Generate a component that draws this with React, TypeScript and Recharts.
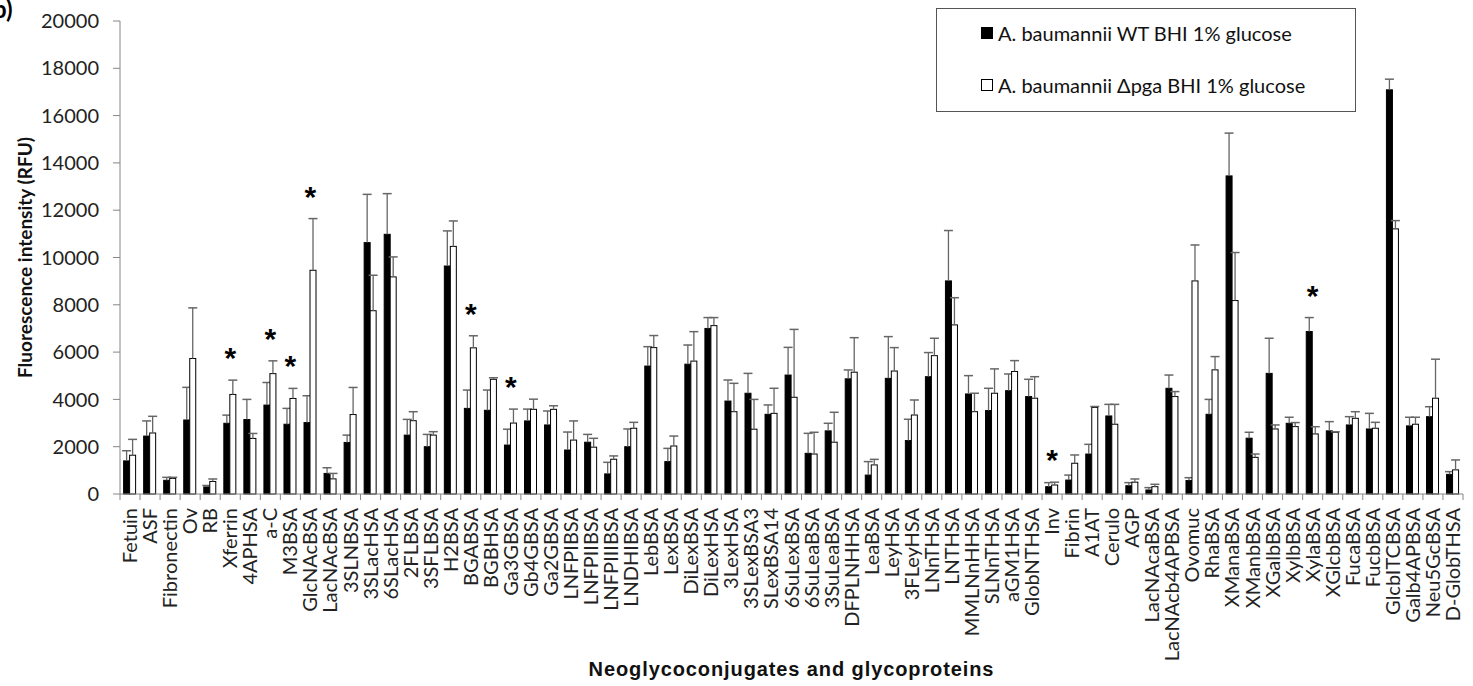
import React from "react";
import { ComposedChart, Bar, Line, XAxis, YAxis } from "recharts";

const CATEGORIES = [
  "Fetuin", "ASF", "Fibronectin", "Ov", "RB", "Xferrin", "4APHSA", "a-C",
  "M3BSA", "GlcNAcBSA", "LacNAcBSA", "3SLNBSA", "3SLacHSA", "6SLacHSA",
  "2FLBSA", "3SFLBSA", "H2BSA", "BGABSA", "BGBHSA", "Ga3GBSA", "Gb4GBSA",
  "Ga2GBSA", "LNFPIBSA", "LNFPIIBSA", "LNFPIIIBSA", "LNDHIBSA", "LebBSA",
  "LexBSA", "DiLexBSA", "DiLexHSA", "3LexHSA", "3SLexBSA3", "SLexBSA14",
  "6SuLexBSA", "6SuLeaBSA", "3SuLeaBSA", "DFPLNHHSA", "LeaBSA", "LeyHSA",
  "3FLeyHSA", "LNnTHSA", "LNTHSA", "MMLNnHHSA", "SLNnTHSA", "aGM1HSA",
  "GlobNTHSA", "Inv", "Fibrin", "A1AT", "Cerulo", "AGP", "LacNAcaBSA",
  "LacNAcb4APBSA", "Ovomuc", "RhaBSA", "XManaBSA", "XManbBSA", "XGalbBSA",
  "XylbBSA", "XylaBSA", "XGlcbBSA", "FucaBSA", "FucbBSA", "GlcbITCBSA",
  "Galb4APBSA", "Neu5GcBSA", "D-GlobTHSA",
];

// A. baumannii WT, BHI 1% glucose (mean, SD)
const WT = [
  1400, 2450, 580, 3130, 300, 2990, 3150, 3760, 2950, 3020, 870, 2180, 10630,
  10980, 2490, 2000, 9640, 3620, 3540, 2070, 3090, 2920, 1860, 2190, 850, 2000,
  5410, 1370, 5490, 7000, 3930, 4260, 3370, 5030, 1720, 2670, 4870, 800, 4890,
  2260, 4960, 9010, 4230, 3530, 4370, 4120, 310, 590, 1690, 3300, 350, 170,
  4470, 570, 3370, 13450, 2360, 5100, 2990, 6870, 2670, 2920, 2750, 17090,
  2880, 3270, 830,
];
const WT_SD = [
  430, 640, 125, 1380, 60, 345, 850, 955, 670, 1135, 240, 310, 2040, 1720, 665,
  520, 1485, 775, 855, 670, 500, 590, 760, 330, 490, 750, 820, 560, 810, 460,
  890, 840, 395, 1170, 845, 320, 375, 570, 1765, 900, 1020, 2130, 775, 940,
  705, 730, 170, 210, 410, 490, 130, 100, 560, 120, 630, 1810, 250, 1485, 255,
  590, 390, 350, 660, 450, 365, 420, 115,
];

// A. baumannii Δpga, BHI 1% glucose (mean, SD)
const PGA = [
  1640, 2580, 660, 5730, 530, 4210, 2350, 5090, 4040, 9460, 640, 3360, 7750,
  9180, 3100, 2490, 10470, 6180, 4850, 3000, 3580, 3580, 2280, 1980, 1470, 2780,
  6190, 2030, 5620, 7120, 3480, 2740, 3410, 4090, 1690, 2190, 5150, 1230, 5200,
  3340, 5850, 7150, 3480, 4260, 5180, 4050, 380, 1300, 3660, 2950, 500, 310,
  4120, 9010, 5250, 8180, 1550, 2750, 2850, 2540, 2610, 3200, 2780, 11210,
  2950, 4050, 1020,
];
const PGA_SD = [
  670, 705, 45, 2140, 105, 605, 210, 540, 425, 2185, 230, 1145, 1500, 845, 380,
  145, 1075, 510, 65, 590, 430, 150, 810, 375, 140, 250, 510, 420, 1245, 340,
  1200, 1260, 1060, 2870, 920, 1265, 1460, 235, 990, 635, 735, 1150, 780, 1030,
  460, 910, 120, 350, 40, 840, 135, 100, 210, 1520, 560, 2030, 140, 170, 170,
  305, 20, 280, 250, 350, 295, 1650, 420,
];

// glycans with a significant WT vs Δpga difference
const SIGNIFICANT = [
  "Xferrin", "a-C", "M3BSA", "GlcNAcBSA", "BGABSA", "Ga3GBSA", "Inv", "XylaBSA",
];

const Y_TICKS = [0, 2000, 4000, 6000, 8000, 10000, 12000, 14000, 16000, 18000, 20000];

const WT_LABEL = "A. baumannii WT BHI 1% glucose";
const PGA_LABEL = "A. baumannii \u0394pga BHI 1% glucose";

const data = CATEGORIES.map((name, i) => ({
  name,
  wt: WT[i],
  wtSd: WT_SD[i],
  pga: PGA[i],
  pgaSd: PGA_SD[i],
  star: SIGNIFICANT.includes(name)
    ? Math.max(WT[i] + WT_SD[i], PGA[i] + PGA_SD[i])
    : null,
}));

const FONT = "Lato, 'Open Sans', sans-serif";
const W = 1473;
const H = 686;
const PLOT_LEFT = 120;
const PLOT_RIGHT = 1463;
const AXIS_Y = 494;
const STEP = (PLOT_RIGHT - PLOT_LEFT) / CATEGORIES.length;

// bar rect plus an upward-only error whisker, scaled off the bar's own height
function barWithError(valueKey: string, sdKey: string, fill: string) {
  return (props: any) => {
    const { x, y, width, height, payload } = props;
    const value = payload[valueKey];
    const perUnit = value > 0 ? height / value : 0;
    const top = y - payload[sdKey] * perUnit;
    const cx = x + width / 2;
    return (
      <g>
        <rect
          x={x}
          y={y}
          width={width}
          height={height}
          fill={fill}
          stroke="#000"
          strokeWidth={1}
        />
        <line x1={cx} y1={y} x2={cx} y2={top} stroke="#666" strokeWidth={1.3} />
        <line x1={cx - 4.5} y1={top} x2={cx + 4.5} y2={top} stroke="#666" strokeWidth={1.5} />
      </g>
    );
  };
}

function CategoryTick(props: any) {
  const { x, y, payload, index } = props;
  const left = x - STEP / 2;
  return (
    <g>
      <line x1={left} y1={AXIS_Y} x2={left} y2={AXIS_Y + 6} stroke="#868686" />
      {index === CATEGORIES.length - 1 && (
        <line
          x1={x + STEP / 2}
          y1={AXIS_Y}
          x2={x + STEP / 2}
          y2={AXIS_Y + 6}
          stroke="#868686"
        />
      )}
      <text
        transform={`translate(${x},${y}) rotate(-90)`}
        textAnchor="end"
        dy="0.35em"
        fontSize={20}
        fontFamily={FONT}
        fill="#222"
      >
        {payload.value}
      </text>
    </g>
  );
}

function Asterisk(props: any) {
  const { cx, cy, payload, index } = props;
  if (payload.star == null || cy == null) return <g key={index} />;
  return (
    <text
      key={index}
      x={cx}
      y={cy - 12}
      textAnchor="middle"
      fontSize={30}
      fontWeight="bold"
      fontFamily="'Liberation Sans', Arial, sans-serif"
      fill="#000"
    >
      *
    </text>
  );
}

function LegendBox() {
  const row = (label: string, fill: string, top: number) => (
    <div
      style={{
        position: "absolute",
        left: 44,
        top,
        display: "flex",
        alignItems: "center",
        whiteSpace: "nowrap",
      }}
    >
      <span
        style={{
          display: "inline-block",
          width: 10,
          height: 10,
          background: fill,
          border: "1px solid #000",
          marginRight: 5,
        }}
      />
      <span style={{ fontSize: 20, fontFamily: FONT, color: "#111" }}>{label}</span>
    </div>
  );
  return (
    <div
      style={{
        position: "absolute",
        left: 936,
        top: 8,
        width: 420,
        height: 104,
        border: "1.5px solid #555",
        background: "#fff",
        boxSizing: "border-box",
      }}
    >
      {row(WT_LABEL, "#000", 12)}
      {row(PGA_LABEL, "#fff", 64)}
    </div>
  );
}

export default function App() {
  return (
    <div
      style={{
        position: "absolute",
        left: 0,
        top: 0,
        width: W,
        height: H,
        background: "#fff",
        overflow: "hidden",
      }}
    >
      <ComposedChart
        width={W}
        height={H}
        data={data}
        margin={{ top: 21, right: W - PLOT_RIGHT, bottom: 6, left: 0 }}
        barCategoryGap="18%"
        barGap={0}
      >
        <XAxis
          dataKey="name"
          interval={0}
          height={186}
          tickLine={false}
          tickSize={6}
          tickMargin={8}
          stroke="#868686"
          tick={<CategoryTick />}
          label={{
            value: "Neoglycoconjugates and glycoproteins",
            position: "insideBottom",
            offset: 4,
            style: {
              fontFamily: "'Liberation Sans', Arial, sans-serif",
              fontWeight: "bold",
              fontSize: 20,
              letterSpacing: 0.9,
              fill: "#111",
            },
          }}
        />
        <YAxis
          domain={[0, 20000]}
          ticks={Y_TICKS}
          interval={0}
          width={PLOT_LEFT}
          tickSize={7}
          tickMargin={14}
          stroke="#868686"
          tick={{ fontSize: 20, fontFamily: FONT, fill: "#222" }}
          label={{
            value: "Fluorescence intensity (RFU)",
            angle: -90,
            position: "center",
            dx: -35,
            style: {
              fontFamily: FONT,
              fontWeight: "bold",
              fontSize: 19,
              fill: "#111",
              textAnchor: "middle",
            },
          }}
        />
        <Bar
          dataKey="wt"
          name={WT_LABEL}
          fill="#000"
          isAnimationActive={false}
          shape={barWithError("wt", "wtSd", "#000")}
        />
        <Bar
          dataKey="pga"
          name={PGA_LABEL}
          fill="#fff"
          isAnimationActive={false}
          shape={barWithError("pga", "pgaSd", "#fff")}
        />
        <Line
          dataKey="star"
          stroke="none"
          dot={Asterisk}
          activeDot={false}
          legendType="none"
          isAnimationActive={false}
        />
      </ComposedChart>
      <LegendBox />
      <div
        style={{
          position: "absolute",
          left: -7,
          top: -6,
          fontFamily: FONT,
          fontWeight: "bold",
          fontSize: 24,
        }}
      >
        b)
      </div>
    </div>
  );
}
